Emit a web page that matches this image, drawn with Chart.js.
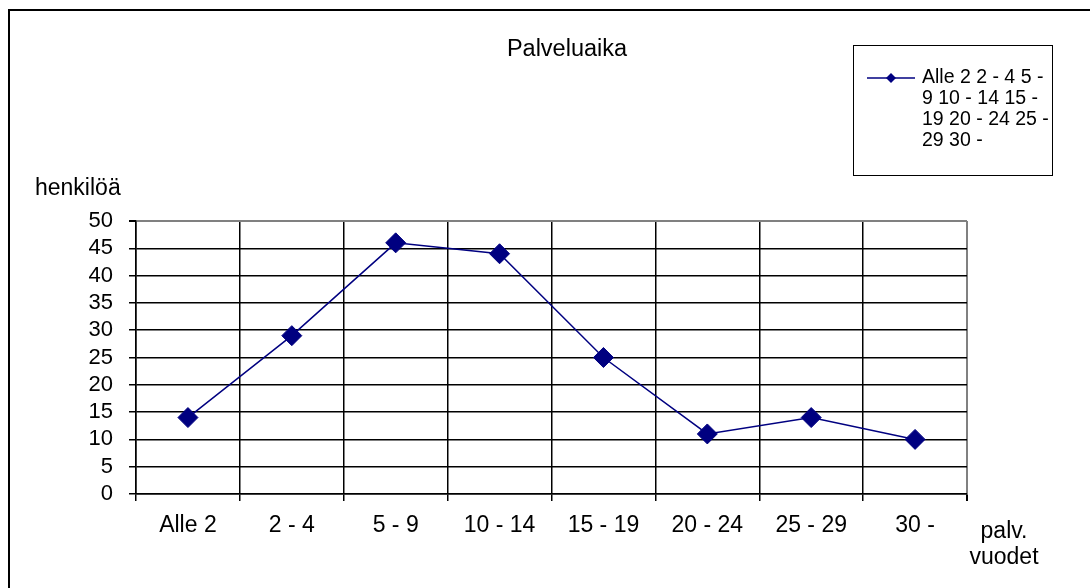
<!DOCTYPE html>
<html>
<head>
<meta charset="utf-8">
<script src="https://cdn.jsdelivr.net/npm/chart.js@4"></script>
<style>
  body { margin: 0; background: #fff; font-family: "Liberation Sans", Arial, sans-serif; }
  #wrap { position: relative; width: 1090px; height: 588px; overflow: hidden; }
  #frame { position: absolute; left: 8px; top: 9px; width: 1200px; height: 700px; border-left: 2px solid #000; border-top: 2px solid #000; }
  .lbl { position: absolute; font-size: 23px; color: #000; line-height: 26px; }
  #title { position: absolute; left: 467px; top: 35px; width: 200px; text-align: center; font-size: 23.5px; }
  #legend { position: absolute; left: 853px; top: 45px; width: 198px; height: 129px; border: 1px solid #000; background: #fff; }
  #legend svg { position: absolute; left: 12px; top: 24px; }
  #legendText { position: absolute; left: 68px; top: 20px; font-size: 19.5px; line-height: 21px; white-space: nowrap; }
</style>
</head>
<body>
<div id="wrap">
  <div id="frame"></div>
  <canvas id="chart" width="1090" height="588"></canvas>
  <div id="title">Palveluaika</div>
  <div class="lbl" style="left:35px; top:174px;">henkilöä</div>
  <div class="lbl" style="left:968px; top:517px; width:72px; text-align:center;">palv.<br>vuodet</div>
  <div id="legend">
    <svg width="50" height="16"><line x1="1" y1="8" x2="49" y2="8" stroke="#000080" stroke-width="1.5"/><polygon points="25,3 30,8 25,13 20,8" fill="#000080"/></svg>
    <div id="legendText"></div>
  </div>
</div>
<script>
const categories = ['Alle 2', '2 - 4', '5 - 9', '10 - 14', '15 - 19', '20 - 24', '25 - 29', '30 -'];
const henkiloa = [14, 29, 46, 44, 25, 11, 14, 10];
const yTicks = [0, 5, 10, 15, 20, 25, 30, 35, 40, 45, 50];
const legendLines = ['Alle 2 2 - 4 5 -', '9 10 - 14 15 -', '19 20 - 24 25 -', '29 30 -'];

document.getElementById('legendText').innerHTML = legendLines.join('<br>');

Chart.defaults.font.family = '"Liberation Sans", Arial, sans-serif';
Chart.defaults.color = '#000';

const ctx = document.getElementById('chart').getContext('2d');
new Chart(ctx, {
  type: 'line',
  data: {
    labels: categories,
    datasets: [{
      label: categories.join(' '),
      data: henkiloa,
      borderColor: '#000080',
      backgroundColor: '#000080',
      borderWidth: 1.5,
      pointStyle: 'rectRot',
      pointRadius: 10,
      pointHoverRadius: 10,
      pointBorderWidth: 1,
      tension: 0,
      fill: false
    }]
  },
  options: {
    responsive: false,
    animation: false,
    devicePixelRatio: 1,
    layout: { padding: { left: 0, right: 123, top: 221, bottom: 0 } },
    plugins: {
      legend: { display: false },
      tooltip: { enabled: false },
      title: { display: false }
    },
    scales: {
      x: {
        offset: true,
        grid: {
          offset: true,
          color: (c) => c.type === 'tick' ? '#000' : '#808080',
          lineWidth: (c) => c.type === 'tick' ? 1.5 : 2,
          tickColor: '#000',
          tickLength: 7,
          drawTicks: true
        },
        border: { color: '#000', width: 1.5 },
        ticks: { font: { size: 23 }, color: '#000', padding: 11, maxRotation: 0, autoSkip: false },
        afterFit: (s) => { s.height = 94; }
      },
      y: {
        min: 0,
        max: 50,
        afterBuildTicks: (s) => { s.ticks = yTicks.map(v => ({ value: v })); },
        grid: {
          color: (c) => c.tick && c.tick.value === 50 ? '#808080' : '#000',
          lineWidth: (c) => c.tick && c.tick.value === 50 ? 2 : 1.5,
          tickColor: '#000',
          tickLength: 7
        },
        border: { color: '#000', width: 1.5 },
        ticks: { font: { size: 22 }, color: '#000', padding: 16, autoSkip: false },
        afterFit: (s) => { s.width = 136; }
      }
    }
  }
});
</script>
</body>
</html>
